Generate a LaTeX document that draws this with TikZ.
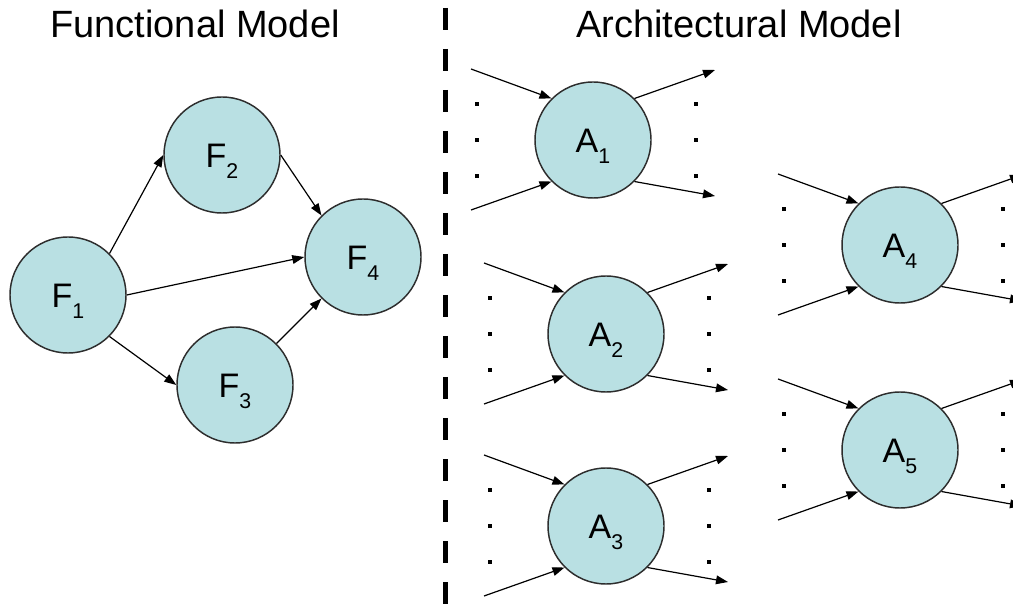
\documentclass[tikz,border=0pt]{standalone}
\usepackage{fontspec}
\setmainfont{Liberation Sans}
\usetikzlibrary{arrows.meta}

\definecolor{nodefill}{RGB}{185,224,227}
\definecolor{nodeline}{RGB}{45,45,45}

% Symbol with a lowered index, e.g. F_1
\newcommand\symidx[2]{\fontsize{25.5}{30}\selectfont #1\raisebox{-8.25pt}{\fontsize{16}{19}\selectfont #2}}

\tikzset{
  blob/.style={circle, draw=nodeline, line width=1.1pt, fill=nodefill,
    minimum size=87pt, inner sep=0pt, text height=18.75pt, text depth=0pt},
  flow/.style={-{Triangle[length=9pt,width=6.5pt]}, line width=0.9pt},
  heading/.style={anchor=base, inner sep=0pt, font=\fontsize{28.5}{34}\selectfont},
  separator/.style={line width=4.2pt, dash pattern=on 16.5pt off 14.25pt},
}

% One architectural block: circle, two inputs, two outputs and dotted gaps
\newcommand\archblock[4]{%
  \node[blob] (#1) at (#2,#3) {\symidx{A}{#4}};
  \coordinate (#1-in1)  at ({#2-122},{#3-71});
  \coordinate (#1-in2)  at ({#2-122},{#3+70});
  \coordinate (#1-out1) at ({#2+122},{#3-70});
  \coordinate (#1-out2) at ({#2+122},{#3+56});
  \draw[flow] (#1-in1) -- (#1.north west);
  \draw[flow] (#1-in2) -- (#1.south west);
  \draw[flow] (#1.north east) -- (#1-out1);
  \draw[flow] (#1.south east) -- (#1-out2);
  \foreach \dy in {-36,0,36}{
    \fill ({#2-117.75},{#3+\dy-1.75}) rectangle +(3.5,3.5);
    \fill ({#2+101.25},{#3+\dy-1.75}) rectangle +(3.5,3.5);
  }%
}

\begin{document}
\begin{tikzpicture}[x=0.75pt,y=-0.75pt]
  \clip (0,0) rectangle (1013,605);
  \fill[white] (0,0) rectangle (1013,605);

  % headings
  \node[heading] (fhead) at (195,38) {Functional Model};
  \node[heading] (ahead) at (739,38) {Architectural Model};

  % separator between the two models
  \coordinate (septop) at (445.5,8);
  \coordinate (sepbot) at (445.5,610);
  \draw[separator] (septop) -- (sepbot);

  % functional model
  \node[blob] (F1) at (68,295)  {\symidx{F}{1}};
  \node[blob] (F2) at (222,155) {\symidx{F}{2}};
  \node[blob] (F3) at (235,385) {\symidx{F}{3}};
  \node[blob] (F4) at (363,257) {\symidx{F}{4}};

  \draw[flow] (F1.north east) -- (F2.west);
  \draw[flow] (F1.east) -- (F4.west);
  \draw[flow] (F1.south east) -- (F3.west);
  \draw[flow] (F2.east) -- (F4.north west);
  \draw[flow] (F3.north east) -- (F4.south west);

  % architectural model
  \archblock{A1}{593}{140}{1}
  \archblock{A2}{606}{334}{2}
  \archblock{A3}{606}{526}{3}
  \archblock{A4}{900}{245}{4}
  \archblock{A5}{900}{450}{5}
\end{tikzpicture}
\end{document}
